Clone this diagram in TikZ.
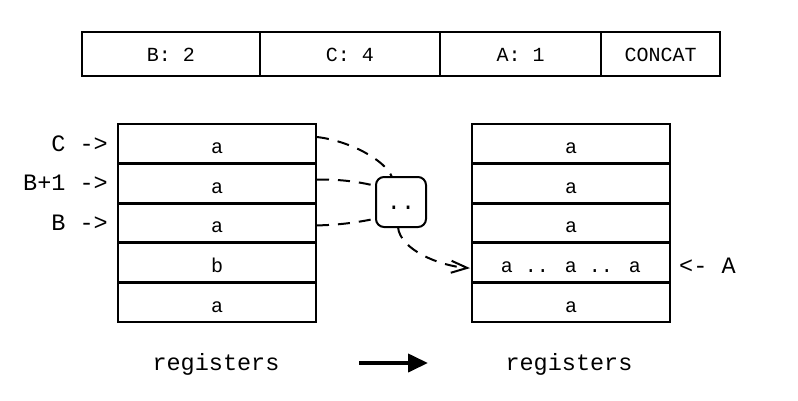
\documentclass[tikz,border=0pt]{standalone}
\usepackage{fontspec}
\setmainfont{Liberation Mono}
\usetikzlibrary{arrows.meta,calc}
\begin{document}
\begin{tikzpicture}[x=1pt,y=-1pt,
  bar/.style={draw, line width=2pt, minimum height=44pt, inner sep=0pt, outer sep=0pt,
    text height=14pt, text depth=0pt, font=\fontsize{20}{20}\selectfont},
  cell/.style={draw, line width=2pt, minimum width=198pt, minimum height=38.7pt, inner sep=0pt, outer sep=0pt,
    text height=20pt, text depth=0pt, font=\fontsize{20}{20}\selectfont},
  lbl/.style={inner sep=0pt, font=\fontsize{23.5}{23.5}\selectfont},
  dotbox/.style={draw, line width=2pt, rounded corners=8pt, minimum width=50pt, minimum height=50pt,
    inner sep=0pt, outer sep=0pt, text height=15pt, text depth=0pt, font=\fontsize{23.5}{23.5}\selectfont},
  link/.style={line width=2pt, dash pattern=on 12pt off 9pt},
  bigarrow/.style={line width=4pt, -{Triangle[length=20pt,width=18pt]}}
]
\useasboundingbox (0,0) rectangle (798,400);

% top bar
\node[bar, minimum width=178pt] (b1) at (171,54) {B: 2};
\node[bar, minimum width=180pt] (b2) at (350,54) {C: 4};
\node[bar, minimum width=161pt] (b3) at (520.5,54) {A: 1};
\node[bar, minimum width=119pt] (b4) at (660.5,54) {CONCAT};

% left registers
\node[cell] (L1) at (217,143.5) {a};
\node[cell] (L2) at (217,183.2) {a};
\node[cell] (L3) at (217,222.9) {a};
\node[cell] (L4) at (217,262.6) {b};
\node[cell] (L5) at (217,302.3) {a};

% right registers
\node[cell] (R1) at (571,143.5) {a};
\node[cell] (R2) at (571,183.2) {a};
\node[cell] (R3) at (571,222.9) {a};
\node[cell] (R4) at (571,262.6) {a .. a .. a};
\node[cell] (R5) at (571,302.3) {a};

% pointer labels
\node[lbl, anchor=base east] (pc) at (108,151) {C ->};
\node[lbl, anchor=base east] (pb1) at (108,190.5) {B+1 ->};
\node[lbl, anchor=base east] (pb) at (108,230) {B ->};
\node[lbl, anchor=base west] (pa) at (679,273) {<- A};

% concat box
\node[dotbox] (dots) at (401,202) {..};

% dashed links
\draw[link] ($(L1.east)+(1,-6.5)$) .. controls (350,141) and (385,160) .. ($(dots.north)+(-9,0)$);
\draw[link] ($(L2.east)+(1,-3.5)$) .. controls (340,179) and (360,182) .. ($(dots.west)+(0,-16)$);
\draw[link] ($(L3.east)+(1,2.5)$) .. controls (340,225) and (360,222) .. ($(dots.west)+(0,16.5)$);
\draw[link, -{Straight Barb[length=16pt,width=12pt]}] ($(dots.south)+(-3,0)$) .. controls (400,250) and (440,266) .. ($(R4.west)+(-2,5.5)$);

% bottom
\node[lbl, anchor=base] (regL) at (216,370) {registers};
\node[lbl, anchor=base] (regR) at (569,370) {registers};
\draw[bigarrow] (359,363) -- (428,363);
\end{tikzpicture}
\end{document}
